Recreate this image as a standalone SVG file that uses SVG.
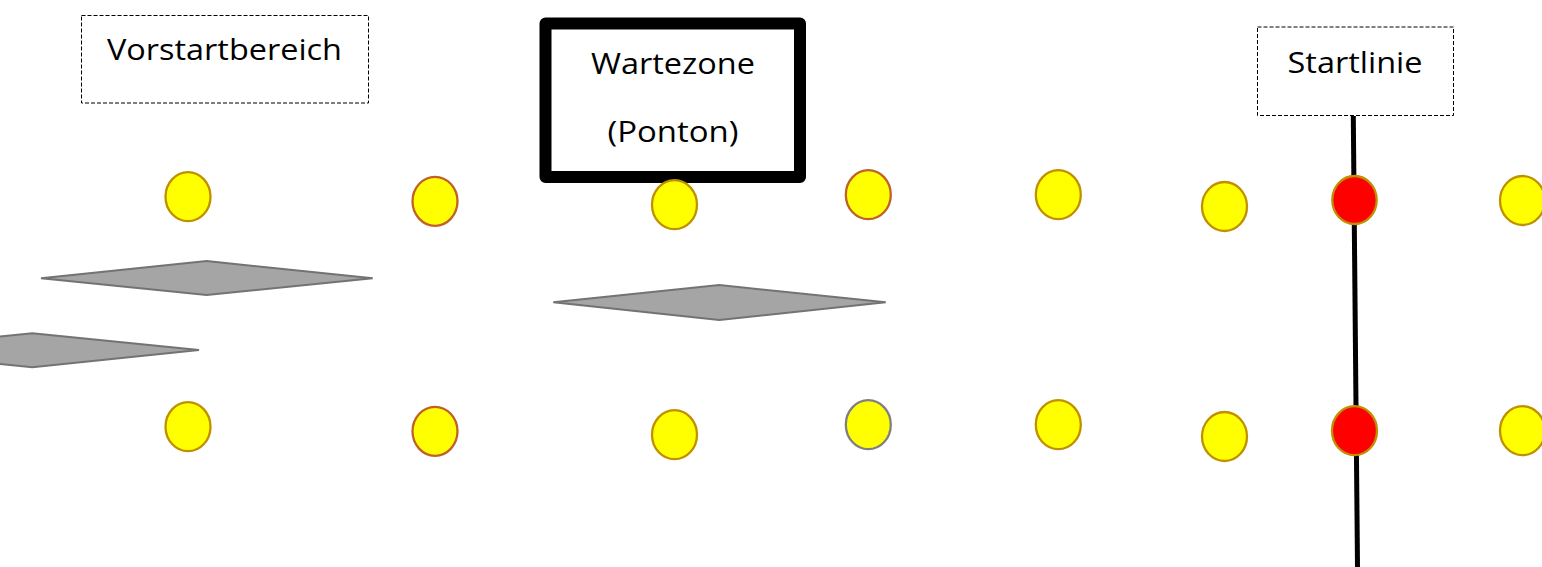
<svg xmlns="http://www.w3.org/2000/svg" width="1542" height="567" viewBox="0 0 1542 567">
<style>
.lbl{fill:none;stroke:#000;stroke-width:1;stroke-dasharray:4 2}
.t{font-family:"Open Sans","Noto Sans",sans-serif;font-size:29px;fill:#000;text-anchor:middle}
.y{fill:#FFFF00;stroke:#BF9000;stroke-width:2.3}
.yb{fill:#FFFF00;stroke:#C0602A;stroke-width:2.3}
.yg{fill:#FFFF00;stroke:#808080;stroke-width:2.3}
.r{fill:#FF0000;stroke:#BF9000;stroke-width:2.3}
.boat{fill:#A5A5A5;stroke:#737373;stroke-width:2}
</style>
<rect width="1542" height="567" fill="#fff"/>
<g id="connectors">
<line x1="1353.3" y1="116" x2="1357.5" y2="567" stroke="#000" stroke-width="5"/>
</g>
<g id="vorstartbereich">
<rect class="lbl" x="81.5" y="15.5" width="287" height="87.5"/>
<text class="t" x="224.5" y="60" textLength="235" lengthAdjust="spacingAndGlyphs">Vorstartbereich</text>
</g>
<g id="wartezone">
<rect x="545.5" y="23.5" width="254.5" height="153.5" fill="#fff" stroke="#000" stroke-width="12" stroke-linejoin="round"/>
<text class="t" x="673" y="74.3" textLength="164" lengthAdjust="spacingAndGlyphs">Wartezone</text>
<text class="t" x="673" y="141.7" textLength="131" lengthAdjust="spacingAndGlyphs">(Ponton)</text>
</g>
<g id="startlinie">
<rect class="lbl" x="1257.5" y="27" width="196" height="88.5" fill="#fff"/>
<text class="t" x="1355" y="73.3" textLength="135" lengthAdjust="spacingAndGlyphs">Startlinie</text>
</g>
<g id="boats">
<polygon class="boat" points="41,278.3 206.7,261 372.7,278.3 206.7,295"/>
<polygon class="boat" points="-134.4,350 32.3,333.3 199,350 32.3,367.3"/>
<polygon class="boat" points="553.3,302.3 719.3,285 885.7,302.3 719.3,320"/>
</g>
<g id="buoys-top">
<ellipse class="y" cx="188" cy="196.7" rx="22.5" ry="24.5"/>
<ellipse class="yb" cx="435" cy="201.3" rx="22.5" ry="24.5"/>
<ellipse class="y" cx="674.5" cy="204.7" rx="22.5" ry="24.5"/>
<ellipse class="yb" cx="868.3" cy="194.7" rx="22.5" ry="24.5"/>
<ellipse class="y" cx="1058.3" cy="194.7" rx="22.5" ry="24.5"/>
<ellipse class="y" cx="1224.5" cy="206.5" rx="22.5" ry="24.5"/>
<ellipse class="r" cx="1354.5" cy="200" rx="22.2" ry="24"/>
<ellipse class="y" cx="1522.5" cy="200.5" rx="22.5" ry="24.5"/>
</g>
<g id="buoys-bottom">
<ellipse class="y" cx="188" cy="426.7" rx="22.5" ry="24.5"/>
<ellipse class="yb" cx="435" cy="431.3" rx="22.5" ry="24.5"/>
<ellipse class="y" cx="674.5" cy="434.7" rx="22.5" ry="24.5"/>
<ellipse class="yg" cx="868.3" cy="424.7" rx="22.5" ry="24.5"/>
<ellipse class="y" cx="1058.3" cy="424.7" rx="22.5" ry="24.5"/>
<ellipse class="y" cx="1224.5" cy="436.5" rx="22.5" ry="24.5"/>
<ellipse class="r" cx="1354.5" cy="430.7" rx="22.5" ry="24.5"/>
<ellipse class="y" cx="1522.5" cy="430.7" rx="22.5" ry="24.5"/>
</g>
</svg>
